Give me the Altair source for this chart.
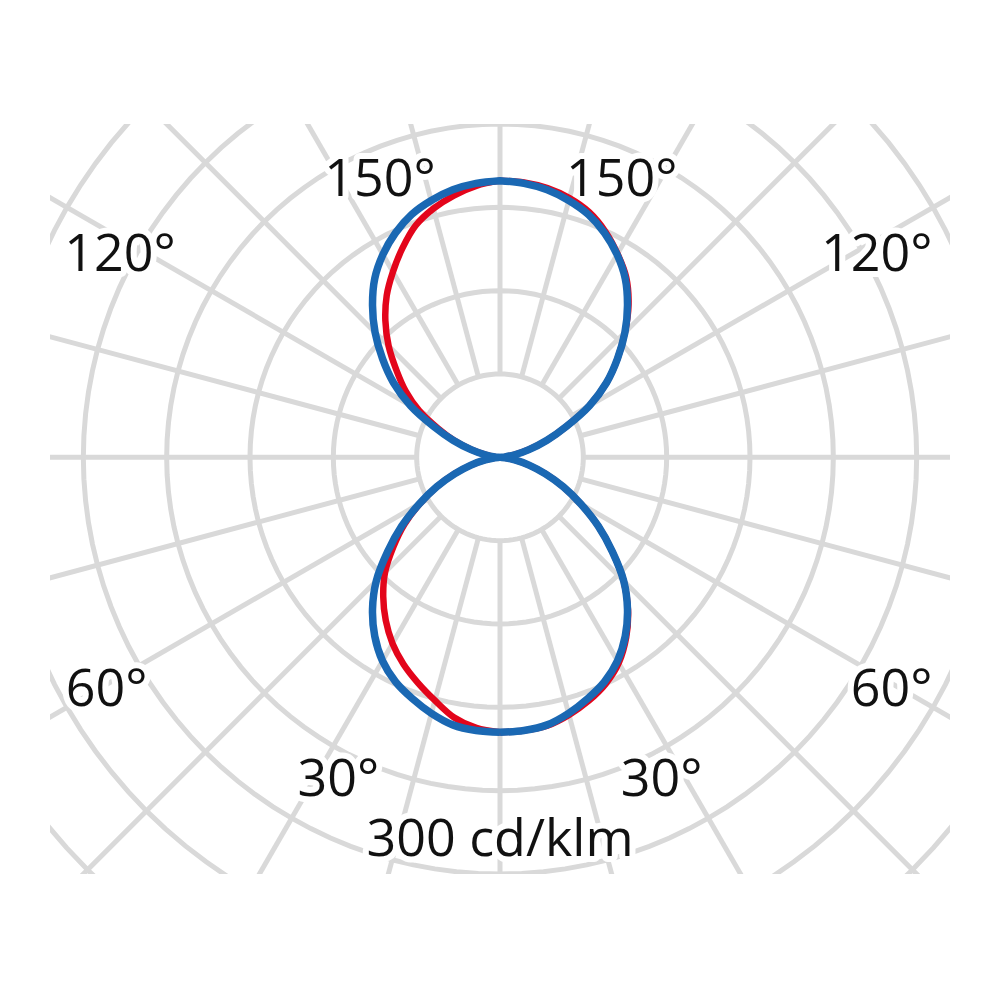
import altair as alt
import pandas as pd
import numpy as np

# ---- data (cd/klm), gamma measured from nadir (0 = straight down) ----
gamma = list(range(0, 181, 5))

blue_right = [165, 164.5, 163, 159, 154, 148.5, 141, 131, 119, 105, 88, 72, 56, 42, 29, 18, 9, 3, 0,
              3, 9, 18, 30, 44, 62, 78, 92, 106, 119, 131, 140.5, 148.5, 155, 159.5, 163, 165, 166]
blue_left = [165, 164.5, 163, 159, 154, 148.5, 141, 131, 119, 105, 88, 72, 56, 42, 29, 18, 9, 3, 0,
             3, 9, 18, 30, 44, 62, 78, 92, 106, 119, 131, 140.5, 148.5, 155, 159.5, 163, 165, 166]
red_right = [165, 164.5, 163.5, 160, 155.5, 150, 142.5, 132, 119.5, 105, 88, 72, 56, 42, 29, 18, 9, 3, 0,
             3, 9, 18, 30, 44, 62, 78, 92, 106, 120, 132, 141, 149.5, 156.5, 161, 164, 165.5, 166]
red_left = [165, 163, 158.5, 151, 144, 137, 129, 119.5, 109, 97.5, 83.5, 70, 55.5, 42, 29, 18, 9, 3, 0,
            3, 9, 18, 29, 41, 56, 69, 81, 94.5, 107, 118.5, 128.5, 138.5, 148, 154.5, 159.5, 163.5, 166]

rings = [50, 100, 150, 200, 250, 300, 350]
spoke_angles = list(range(0, 360, 15))

label_text = ["150°", "150°", "120°", "120°", "60°", "60°", "30°", "30°", "300 cd/klm"]
label_x = [-72, 73, -228, 226, -236, 235, -97, 97, 0]
label_y = [157, 157, 112, 112, -149, -149, -203, -203, -239]

# ---- build tables ----
rows = []
for name, right, left in [("red", red_right, red_left), ("blue", blue_right, blue_left)]:
    o = 0
    for g, v in zip(gamma, right):
        rows.append({"series": name, "side": 1, "gamma": g, "value": v, "order": o}); o += 1
    for g, v in zip(gamma[::-1], left[::-1]):
        rows.append({"series": name, "side": -1, "gamma": g, "value": v, "order": o}); o += 1
curves = pd.DataFrame(rows)

ring_rows = []
for r in rings:
    for i, a in enumerate(range(0, 361, 3)):
        ring_rows.append({"ring": r, "a": a, "i": i})
ring_df = pd.DataFrame(ring_rows)

spoke_df = pd.DataFrame({"a": spoke_angles, "r0": 50, "r1": 450})
labels = pd.DataFrame({"text": label_text, "x": label_x, "y": label_y})

xs = alt.Scale(domain=[-270, 270], nice=False, zero=False)
ys = alt.Scale(domain=[-250, 200], nice=False, zero=False)
GRID = "#d9d9d9"

ring_layer = alt.Chart(ring_df).transform_calculate(
    px="datum.ring*sin(datum.a*PI/180)", py="datum.ring*cos(datum.a*PI/180)"
).mark_line(color=GRID, strokeWidth=5, clip=True).encode(
    x=alt.X("px:Q", scale=xs, axis=None),
    y=alt.Y("py:Q", scale=ys, axis=None),
    detail="ring:N",
    order="i:Q",
)

spoke_layer = alt.Chart(spoke_df).transform_calculate(
    x0="datum.r0*sin(datum.a*PI/180)", y0="-datum.r0*cos(datum.a*PI/180)",
    x1="datum.r1*sin(datum.a*PI/180)", y1="-datum.r1*cos(datum.a*PI/180)",
).mark_rule(color=GRID, strokeWidth=5, clip=True).encode(
    x=alt.X("x0:Q", scale=xs, axis=None), y=alt.Y("y0:Q", scale=ys, axis=None),
    x2="x1:Q", y2="y1:Q",
)

halo = alt.Chart(labels).mark_text(
    font="Open Sans", fontSize=52, align="center", baseline="alphabetic",
    color="white", stroke="white", strokeWidth=12, strokeJoin="round",
).encode(x=alt.X("x:Q", scale=xs, axis=None), y=alt.Y("y:Q", scale=ys, axis=None), text="text:N")

txt = alt.Chart(labels).mark_text(
    font="Open Sans", fontSize=52, align="center", baseline="alphabetic", color="#111111",
).encode(x=alt.X("x:Q", scale=xs, axis=None), y=alt.Y("y:Q", scale=ys, axis=None), text="text:N")


def curve(name, color, width):
    return alt.Chart(curves).transform_filter(
        alt.datum.series == name
    ).transform_calculate(
        px="datum.side*datum.value*sin(datum.gamma*PI/180)",
        py="-datum.value*cos(datum.gamma*PI/180)",
    ).mark_line(color=color, strokeWidth=width, interpolate="catmull-rom", clip=True).encode(
        x=alt.X("px:Q", scale=xs, axis=None),
        y=alt.Y("py:Q", scale=ys, axis=None),
        order="order:Q",
    )


chart = alt.layer(
    ring_layer, spoke_layer, halo, txt,
    curve("red", "#e3051b", 6.5),
    curve("blue", "#1a68b3", 7.5),
).properties(
    width=900, height=750,
    autosize=alt.AutoSizeParams(type="none"),
    padding={"left": 42, "top": 116, "right": 0, "bottom": 0},
    background="white",
).configure_view(strokeWidth=0)

chart.save("out.html", embed_options={"renderer": "svg", "actions": False})
